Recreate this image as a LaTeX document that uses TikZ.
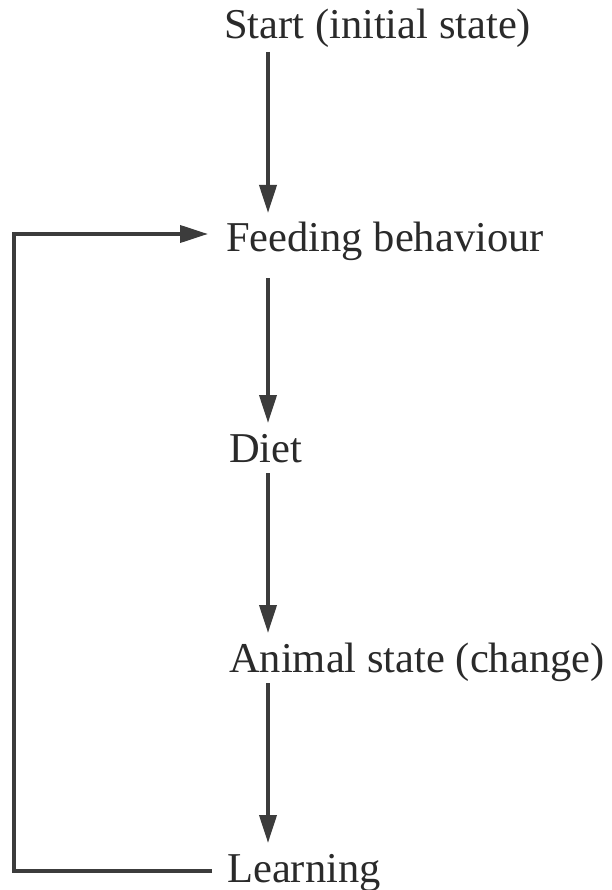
\documentclass[tikz,border=0pt]{standalone}
\usepackage{fontspec}
\setmainfont{Liberation Serif}
\usetikzlibrary{arrows.meta,calc}
\definecolor{ink}{HTML}{2A2A2A}
\definecolor{lineink}{HTML}{3C3C3C}
\tikzset{
  lbl/.style={anchor=base west, inner sep=0pt, text=ink, font=\fontsize{42.5}{50}\selectfont},
  arr/.style={draw=lineink, line width=3.8pt, -{Triangle[length=28pt,width=17pt]}},
  plain/.style={draw=lineink, line width=3.8pt}
}
\begin{document}
\begin{tikzpicture}[x=1pt,y=-1pt]
\useasboundingbox (0,0) rectangle (611,890);
\fill[white] (0,0) rectangle (611,890);
\node[lbl] (start) at (224,39) {Start (initial state)};
\node[lbl] (feed) at (226,252) {Feeding behaviour};
\node[lbl] (diet) at (229,462) {Diet};
\node[lbl] (anim) at (229,672) {Animal state (change)};
\node[lbl] (learn) at (227,882) {Learning};
\draw[arr] ($(start.base west)+(44,13)$) -- ($(feed.base west)+(42,-39)$);
\draw[arr] ($(feed.base west)+(42,26)$) -- ($(diet.base west)+(39,-39)$);
\draw[arr] ($(diet.base west)+(39,11)$) -- ($(anim.base west)+(39,-39)$);
\draw[arr] ($(anim.base west)+(39,11)$) -- ($(learn.base west)+(41,-39)$);
\draw[arr] ($(learn.base west)+(-15,-11)$) -| (14,234) -- ($(feed.base west)+(-18,-18)$);
\end{tikzpicture}
\end{document}
